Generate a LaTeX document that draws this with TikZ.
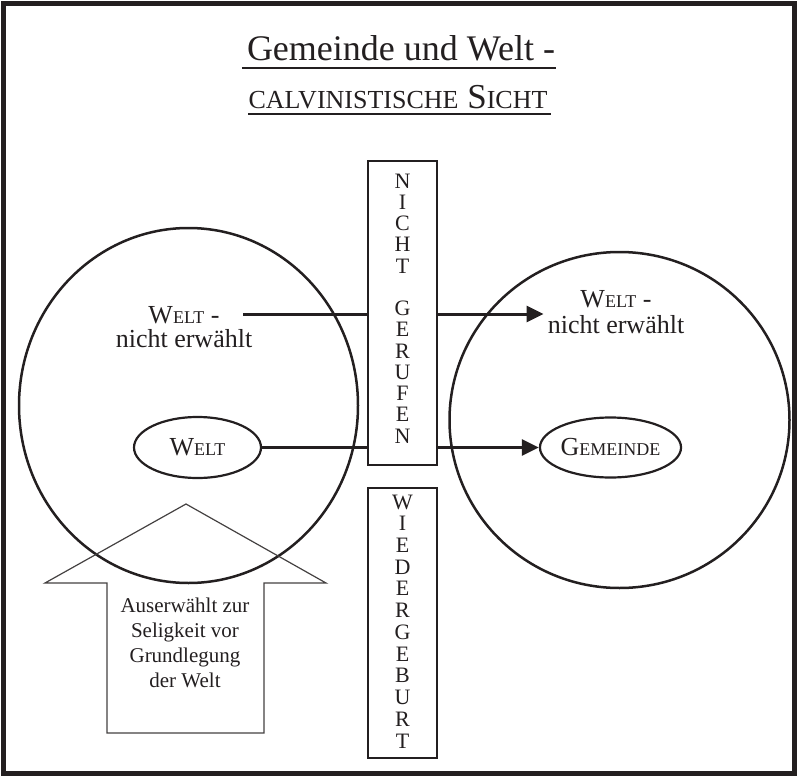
\documentclass[tikz,border=0pt]{standalone}
\usepackage{fontspec}
\setmainfont{Liberation Serif}
\usetikzlibrary{arrows.meta,shapes.geometric,calc}
\definecolor{ink}{RGB}{35,31,32}
\newcommand\mysc[2]{{\fontsize{#1}{#1}\selectfont #2}}
\begin{document}
\begin{tikzpicture}[x=1pt,y=-1pt,
  lett/.style={font=\fontsize{22}{22}\selectfont, text=ink, anchor=base, inner sep=0pt},
  lbl/.style={font=\fontsize{26}{26}\selectfont, text=ink, anchor=base, inner sep=2pt},
  sel/.style={font=\fontsize{21}{21}\selectfont, text=ink, anchor=base, inner sep=0pt},
  ring/.style={ellipse, draw=ink, line width=2.5pt, inner sep=0pt},
  bar/.style={draw=ink, line width=2.5pt, fill=white, inner sep=0pt},
  oval/.style={ellipse, draw=ink, line width=2.2pt, inner sep=0pt, font=\fontsize{26}{26}\selectfont, text=ink},
  arr/.style={draw=ink, line width=3pt, -{Triangle[length=17pt,width=16pt]}},
  blockarrow/.style={draw=ink!85, line width=1.2pt},
]
\useasboundingbox (0,0) rectangle (798,776);
\draw[draw=ink, line width=5pt] (3.5,3.5) rectangle (794.5,773.5);

% title
\node[font=\fontsize{36}{36}\selectfont, text=ink, anchor=base, inner sep=0pt] (t1) at (401,60) {Gemeinde und Welt -};
\draw[ink, line width=1.5pt] ($(t1.base west)+(-5,8)$) -- ($(t1.base east)+(1,8)$);
\node[font=\fontsize{35}{35}\selectfont, text=ink, anchor=base, inner sep=0pt] (t2) at (398,108) {\mysc{26}{CALVINISTISCHE} S\mysc{26}{ICHT}};
\draw[ink, line width=1.5pt] ($(t2.base west)+(0,6)$) -- ($(t2.base east)+(3,6)$);

% circles
\node[ring, minimum width=339pt, minimum height=355pt] (lcirc) at (188.5,405.5) {};
\node[ring, minimum width=340pt, minimum height=336pt] (rcirc) at (619.5,420) {};

% labels in circles
\node[lbl] (lw1) at (184,323) {W\mysc{18}{ELT} -};
\node[lbl] (lw2) at (184,347) {nicht erwählt};
\node[lbl] (rw1) at (616,307) {W\mysc{18}{ELT} -};
\node[lbl] (rw2) at (616,333) {nicht erwählt};

\node[oval, minimum width=127pt, minimum height=61pt] (welt) at (197.5,447.5) {W\mysc{18}{ELT}};
\node[oval, minimum width=135pt, minimum height=60pt] (gem) at (610.5,447.5) {G\mysc{18}{EMEINDE}};

% connectors
\coordinate (a1s) at (243,314);
\draw[arr] (a1s) -- ($(a1s -| rw2.west)+(-2,0)$);
\draw[arr] (welt.east) -- (gem.west);

% bars
\path[bar] (368,161) rectangle (437,465);
\path[bar] (368,488) rectangle (437,758);
\foreach \c [count=\i] in {N,I,C,H,T}
  \node[lett] (na\i) at (402.5,{188+(\i-1)*21.25}) {\c};
\foreach \c [count=\i] in {G,E,R,U,F,E,N}
  \node[lett] (nb\i) at (402.5,{315.5+(\i-1)*21.25}) {\c};
\foreach \c [count=\i] in {W,I,E,D,E,R,G,E,B,U,R,T}
  \node[lett] (wg\i) at (402.5,{509+(\i-1)*21.727}) {\c};

% block arrow
\draw[blockarrow] (186,504) -- (326,583) -- (264,583) -- (264,733) -- (107,733) -- (107,583) -- (45,583) -- cycle;
\node[sel] (s1) at (185,612) {Auserwählt zur};
\node[sel] (s2) at (185,637) {Seligkeit vor};
\node[sel] (s3) at (185,662) {Grundlegung};
\node[sel] (s4) at (185,687) {der Welt};
\end{tikzpicture}
\end{document}
